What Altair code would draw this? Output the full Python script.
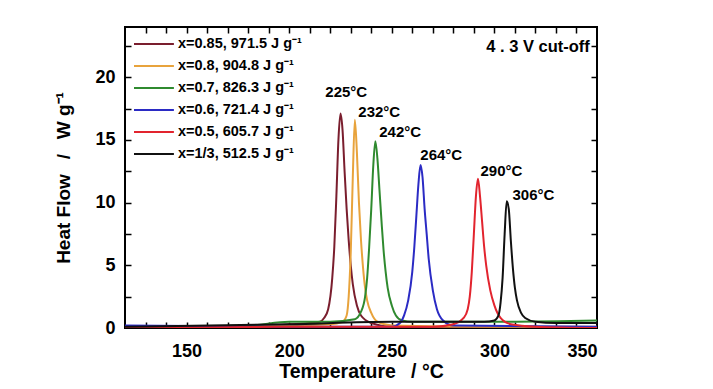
import altair as alt
import pandas as pd

# ---- data ----
series = [
    "x=0.85, 971.5 J g⁻¹",
    "x=0.8, 904.8 J g⁻¹",
    "x=0.7, 826.3 J g⁻¹",
    "x=0.6, 721.4 J g⁻¹",
    "x=0.5, 605.7 J g⁻¹",
    "x=1/3, 512.5 J g⁻¹",
]
colors = ["#7A1E2E", "#E8A33C", "#2F8A2F", "#2B2BC4", "#E2242E", "#111111"]

t_085 = [120, 180, 200, 210, 215, 217, 219, 221, 222, 223, 224, 225, 226, 227, 228, 229, 230, 231, 233, 235, 240, 250, 300, 350]
h_085 = [0.0, 0.1, 0.3, 0.4, 0.5, 0.8, 1.5, 4.0, 6.5, 10.5, 15.0, 17.1, 15.8, 12.5, 9.5, 7.0, 5.0, 3.5, 1.8, 1.0, 0.4, 0.1, 0.05, 0.05]

t_080 = [120, 200, 220, 226, 228, 229, 230, 231, 232, 233, 234, 235, 236, 237, 238, 240, 243, 250, 300, 350]
h_080 = [0.0, 0.2, 0.3, 0.5, 1.0, 2.5, 6.0, 12.0, 16.6, 14.0, 10.0, 7.0, 4.8, 3.2, 2.2, 1.2, 0.5, 0.2, 0.1, 0.1]

t_070 = [120, 180, 200, 220, 232, 235, 237, 238, 239, 240, 241, 242, 243, 244, 245, 246, 247, 248, 250, 252, 255, 260, 300, 350]
h_070 = [0.1, 0.2, 0.5, 0.5, 0.7, 1.3, 2.5, 4.0, 6.5, 9.5, 13.0, 14.9, 13.5, 11.0, 8.5, 6.2, 4.5, 3.2, 1.8, 1.0, 0.6, 0.5, 0.5, 0.6]

t_060 = [120, 200, 250, 254, 256, 258, 260, 261, 262, 263, 264, 265, 266, 267, 268, 270, 272, 275, 280, 350]
h_060 = [0.2, 0.1, 0.1, 0.4, 1.0, 2.2, 4.5, 6.5, 9.0, 11.5, 13.0, 12.0, 9.5, 7.5, 5.5, 3.0, 1.5, 0.6, 0.2, 0.1]

t_050 = [120, 200, 270, 280, 285, 287, 288, 289, 290, 291, 292, 293, 294, 295, 296, 298, 300, 303, 308, 320, 350]
h_050 = [0.0, 0.1, 0.1, 0.3, 0.8, 1.5, 2.5, 4.5, 7.5, 10.5, 11.9, 10.5, 8.5, 6.5, 5.0, 3.0, 1.8, 0.8, 0.3, 0.1, 0.0]

t_033 = [120, 200, 250, 295, 300, 302, 303, 304, 305, 306, 307, 308, 309, 310, 311, 313, 315, 320, 330, 350]
h_033 = [0.1, 0.3, 0.5, 0.5, 0.6, 1.0, 2.0, 4.0, 7.5, 10.1, 9.5, 7.0, 4.8, 3.2, 2.2, 1.2, 0.8, 0.5, 0.4, 0.4]

peak_labels = ["225°C", "232°C", "242°C", "264°C", "290°C", "306°C"]
peak_label_t = [227.8, 243.9, 254.1, 274.1, 303.4, 319.0]
peak_label_h = [18.8, 17.2, 15.6, 13.8, 12.5, 10.6]

note_text = ["4 . 3 V cut-off"]
note_t = [346.5]
note_h = [22.4]

x_label_values = [150, 200, 250, 300, 350]
y_label_values = [0, 5, 10, 15, 20]
x_tick_values = [130, 140, 150, 160, 170, 180, 190, 200, 210, 220, 230, 240, 250,
                 260, 270, 280, 290, 300, 310, 320, 330, 340]
y_tick_values = [2.5, 5, 7.5, 10, 12.5, 15, 17.5, 20, 22.5]

x_title = "Temperature\u2002\u00a0/\u00a0°C"
y_title = "Heat Flow\u2002\u00a0/\u00a0\u2002W g⁻¹"

# ---- build tables ----
all_t = [t_085, t_080, t_070, t_060, t_050, t_033]
all_h = [h_085, h_080, h_070, h_060, h_050, h_033]
rows = []
for k, (name, ts, hs) in enumerate(zip(series, all_t, all_h)):
    for t, h in zip(ts, hs):
        rows.append({"series": name, "T": t, "H": h, "k": k})
df = pd.DataFrame(rows)
df_peaks = pd.DataFrame({"label": peak_labels, "T": peak_label_t, "H": peak_label_h})
df_note = pd.DataFrame({"label": note_text, "T": note_t, "H": note_h})

W, H = 472, 301
FONT = "Liberation Sans"

xs = alt.Scale(domain=[120, 350], nice=False, zero=False)
ys = alt.Scale(domain=[0, 24], nice=False, zero=False)

x_axis = alt.Axis(
    values=x_label_values, title=x_title, ticks=False, domain=False, grid=False,
    labelPadding=14, labelFontSize=18, labelFontWeight="bold", labelFont=FONT, labelColor="black",
    titleFontSize=19.5, titleFontWeight="bold", titleFont=FONT, titleColor="black", titlePadding=2)
y_axis = alt.Axis(
    values=y_label_values, title=y_title, ticks=False, domain=False, grid=False,
    labelPadding=10, labelFontSize=18, labelFontWeight="bold", labelFont=FONT, labelColor="black",
    titleFontSize=19, titleFontWeight="bold", titleFont=FONT, titleColor="black", titlePadding=21)

lines = alt.Chart(df).mark_line(strokeWidth=2, interpolate="monotone", clip=True).encode(
    x=alt.X("T:Q", scale=xs, axis=x_axis, title=x_title),
    y=alt.Y("H:Q", scale=ys, axis=y_axis, title=y_title),
    color=alt.Color("series:N", scale=alt.Scale(domain=series, range=colors), legend=alt.Legend(
        title=None, orient="none", legendX=8, legendY=9, symbolType="M-1,0H4.7", symbolSize=196,
        symbolStrokeWidth=2, labelFont=FONT, labelFontWeight="bold", labelFontSize=14.5,
        labelColor="black", rowPadding=7, labelOffset=29, padding=0)),
    order=alt.Order("k:Q"),
)

peaks = alt.Chart(df_peaks).mark_text(font=FONT, fontWeight="bold", fontSize=15, color="black").encode(
    x=alt.X("T:Q", scale=xs, axis=x_axis, title=x_title),
    y=alt.Y("H:Q", scale=ys, axis=y_axis, title=y_title),
    text="label:N",
)

note = alt.Chart(df_note).mark_text(font=FONT, fontWeight="bold", fontSize=16.5, color="black", align="right").encode(
    x=alt.X("T:Q", scale=xs, axis=x_axis, title=x_title),
    y=alt.Y("H:Q", scale=ys, axis=y_axis, title=y_title),
    text="label:N",
)

main = alt.layer(lines, peaks, note)

tick_common = dict(labels=False, domain=False, title=None, grid=False, tickSize=6,
                   tickColor="black", tickWidth=1.5)

ticks_a = alt.Chart(df).mark_line(opacity=0).encode(
    x=alt.X("T:Q", scale=xs, axis=alt.Axis(orient="top", offset=-H, values=x_tick_values, **tick_common)),
    y=alt.Y("H:Q", scale=ys, axis=alt.Axis(orient="right", offset=-W, values=y_tick_values, **tick_common)),
    detail="series:N",
)
ticks_b = alt.Chart(df).mark_line(opacity=0).encode(
    x=alt.X("T:Q", scale=xs, axis=alt.Axis(orient="bottom", offset=-H, values=x_tick_values, **tick_common)),
    y=alt.Y("H:Q", scale=ys, axis=alt.Axis(orient="left", offset=-W, values=y_tick_values, **tick_common)),
    detail="series:N",
)

chart = alt.layer(main, ticks_a, ticks_b).resolve_scale(
    x="independent", y="independent"
).properties(
    width=W, height=H,
    autosize=alt.AutoSizeParams(type="none"),
    padding={"left": 117, "top": 19, "right": 100, "bottom": 60},
    background="white",
).configure_view(stroke="black", strokeWidth=2)

chart.save("out.html", embed_options={"renderer": "svg", "actions": False})
